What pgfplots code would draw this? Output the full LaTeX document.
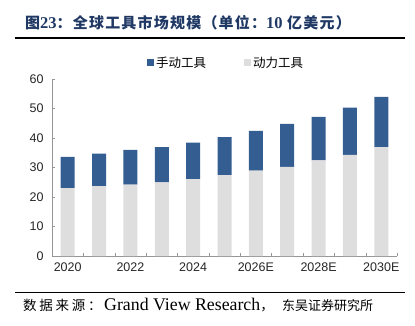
\documentclass[border=0pt]{standalone}
\usepackage{pgfplots}
\pgfplotsset{compat=1.18}
\usepackage{fontspec}
\setmainfont{Liberation Sans}
\newfontfamily\cjk{Noto Sans CJK SC}
\newfontfamily\cjkt[LetterSpace=8]{Noto Sans CJK SC}
\newfontfamily\cjks[LetterSpace=20]{Noto Sans CJK SC}
\newfontfamily\tnr{Liberation Serif}
\definecolor{handblue}{RGB}{52,93,145}
\definecolor{powergray}{RGB}{222,222,222}
\definecolor{titleblue}{RGB}{31,56,100}
\definecolor{axisgray}{RGB}{150,150,150}
\pgfplotstableread{
x power hand
0 23.0 10.6
1 23.7 11.0
2 24.2 11.8
3 25.0 11.9
4 26.1 12.3
5 27.4 12.9
6 28.9 13.5
7 30.2 14.6
8 32.4 14.8
9 34.3 16.0
10 36.9 17.0
}\datatable
\begin{document}
\begin{tikzpicture}
\path[use as bounding box] (0pt,0pt) rectangle (415pt,325pt);
\node[anchor=west, text=titleblue, inner sep=0] at (25pt,302pt) {\cjkt\bfseries\fontsize{15}{16}\selectfont 图{\tnr\fontsize{16.5}{16}\selectfont 23}：全球工具市场规模（单位：{\tnr\fontsize{16.5}{16}\selectfont 10} 亿美元）};
\draw[line width=1.8pt] (15pt,287pt) -- (405pt,287pt);
\draw[line width=1pt] (15pt,33pt) -- (405pt,33pt);
\node[anchor=base west, inner sep=0] at (23pt,15pt) {\cjks\fontsize{13.5}{16}\selectfont 数据来源：};
\node[anchor=base west, inner sep=0] at (104pt,15pt) {{\tnr\fontsize{17.8}{18}\selectfont Grand View Research}\cjk\fontsize{13.5}{16}\selectfont ，};
\node[anchor=base west, inner sep=0] at (282pt,15pt) {\cjk\fontsize{13}{16}\selectfont 东吴证券研究所};
\begin{axis}[
  at={(52pt,69pt)}, anchor=south west,
  scale only axis, width=345pt, height=177pt,
  ybar stacked, bar width=14pt,
  xmin=-0.5, xmax=10.5, ymin=0, ymax=60,
  axis x line*=bottom, axis y line*=left,
  axis line style={axisgray},
  tick align=inside,
  xtick={0,2,...,10},
  xticklabels={2020,2022,2024,2026E,2028E,2030E},
  minor xtick={-0.5,0.5,...,10.5},
  every major x tick/.append style={draw=none},
  every minor x tick/.append style={axisgray},
  minor tick length=3pt,
  ytick={0,10,...,60},
  major tick length=3pt,
  ytick style={axisgray},
  tick label style={font=\fontsize{12.5}{14}\selectfont, text=black!85},
  yticklabel style={xshift=-5pt},
  xticklabel style={yshift=-3pt},
  /pgf/number format/assume math mode=true,
  reverse legend,
  legend columns=2,
  legend style={at={(0.505,1.035)}, anchor=south, draw=none, fill=none,
    font=\cjk\fontsize{12.5}{14}\selectfont,
    /tikz/every even column/.append style={column sep=36pt}},
  legend image code/.code={\path[#1, draw=none] (0pt,-3.5pt) rectangle (7pt,3.5pt);},
]
\addplot[fill=powergray, draw=none] table[x=x, y=power] {\datatable};
\addplot[fill=handblue, draw=none] table[x=x, y=hand] {\datatable};
\legend{动力工具,手动工具}
\end{axis}
\end{tikzpicture}
\end{document}
